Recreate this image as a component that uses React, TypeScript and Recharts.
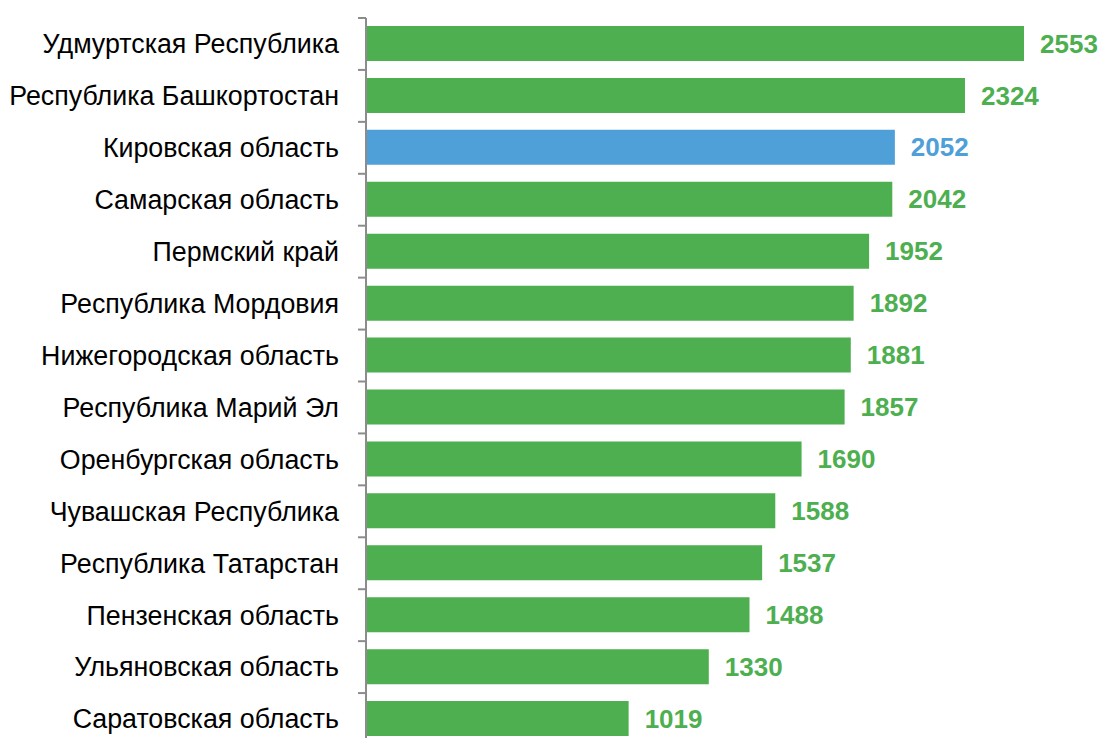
import { Bar, BarChart, Cell, LabelList, XAxis, YAxis } from 'recharts';

const regions = [
  'Удмуртская Республика',
  'Республика Башкортостан',
  'Кировская область',
  'Самарская область',
  'Пермский край',
  'Республика Мордовия',
  'Нижегородская область',
  'Республика Марий Эл',
  'Оренбургская область',
  'Чувашская Республика',
  'Республика Татарстан',
  'Пензенская область',
  'Ульяновская область',
  'Саратовская область',
];
const values = [2553, 2324, 2052, 2042, 1952, 1892, 1881, 1857, 1690, 1588, 1537, 1488, 1330, 1019];
const highlight = 'Кировская область';

const GREEN = '#4DAF4F';
const BLUE = '#4F9FD8';
const AXIS = '#8C8C8C';

const data = regions.map((name, i) => ({ name, value: values[i] }));

function RegionTick(props: any) {
  const { x, y, payload, index, visibleTicksCount } = props;
  const half = payload.offset ?? 0;
  const last = index === visibleTicksCount - 1;
  const ax = x + 8;
  return (
    <g>
      <line x1={ax - 8} x2={ax} y1={y - half} y2={y - half} stroke={AXIS} strokeWidth={2} />
      {last && <line x1={ax - 8} x2={ax} y1={y + half} y2={y + half} stroke={AXIS} strokeWidth={2} />}
      <text x={ax - 27} y={y} dy="0.35em" textAnchor="end" fill="#000" fontSize={26.8}>
        {payload.value}
      </text>
    </g>
  );
}

export default function App() {
  return (
    <div
      style={{
        position: 'fixed',
        top: 0,
        left: 0,
        width: 1101,
        height: 738,
        overflow: 'hidden',
        background: '#fff',
        fontFamily: '"Liberation Sans", Arial, sans-serif',
      }}
    >
      <BarChart
        width={1101}
        height={753}
        data={data}
        layout="vertical"
        barSize={35}
        margin={{ top: 18, right: 77, bottom: 8, left: 0 }}
      >
        <XAxis type="number" domain={[0, 2553]} hide />
        <YAxis
          type="category"
          dataKey="name"
          width={366}
          axisLine={{ stroke: AXIS, strokeWidth: 2 }}
          tickLine={false}
          tick={<RegionTick />}
          interval={0}
        />
        <Bar dataKey="value" isAnimationActive={false}>
          {data.map((d) => (
            <Cell key={d.name} fill={d.name === highlight ? BLUE : GREEN} />
          ))}
          <LabelList
            dataKey="value"
            position="right"
            offset={16}
            content={(p: any) => {
              const d = data[p.index];
              return (
                <text
                  x={p.x + p.width + 16}
                  y={p.y + p.height / 2}
                  dy="0.35em"
                  fontSize={26}
                  fontWeight="bold"
                  fill={d.name === highlight ? BLUE : GREEN}
                >
                  {p.value}
                </text>
              );
            }}
          />
        </Bar>
      </BarChart>
    </div>
  );
}
